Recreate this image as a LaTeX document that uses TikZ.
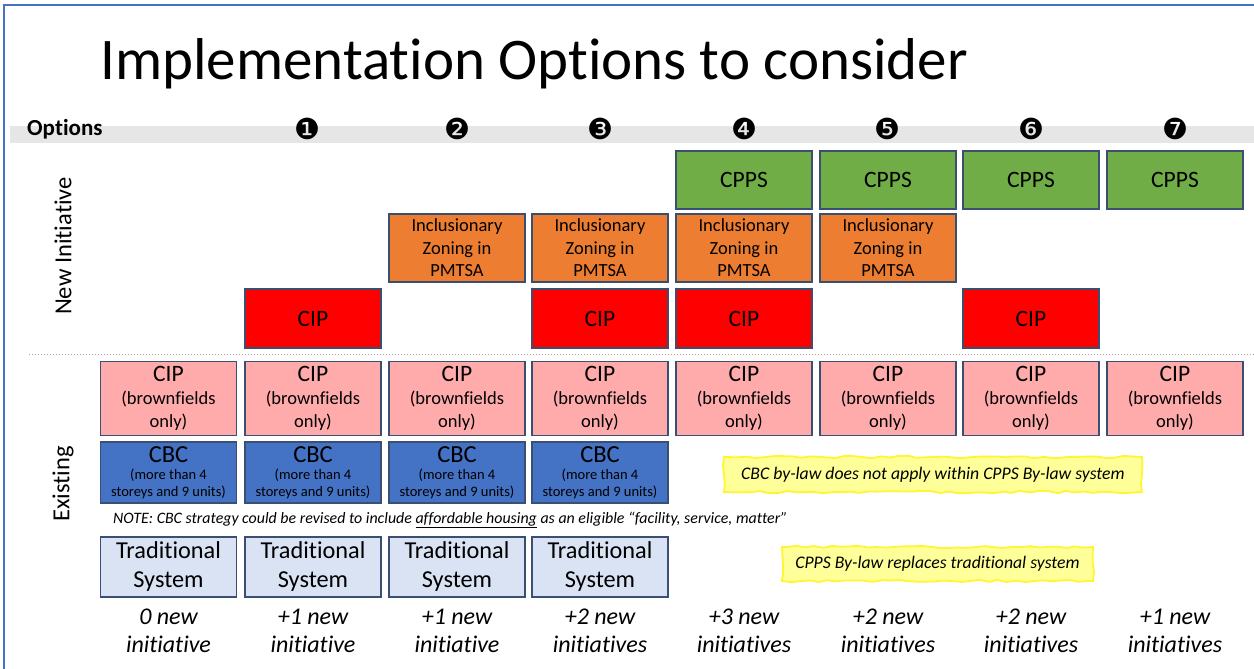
\documentclass[tikz,border=0pt]{standalone}
\usepackage{fontspec}
\setmainfont{Carlito}[Ligatures=NoCommon]
\newfontfamily\dejavu{DejaVu Sans}
\usetikzlibrary{decorations.pathmorphing}
\definecolor{slideblue}{HTML}{4472C4}
\definecolor{bandgray}{HTML}{E7E6E6}
\definecolor{cgreen}{HTML}{70AD47}
\definecolor{corange}{HTML}{ED7D31}
\definecolor{cred}{HTML}{FF0000}
\definecolor{cpink}{HTML}{FFABAB}
\definecolor{cblue}{HTML}{4472C4}
\definecolor{clight}{HTML}{DAE3F3}
\definecolor{cbord}{HTML}{3B4F72}
\definecolor{noteyel}{HTML}{FFFF99}
\definecolor{noteedge}{HTML}{FFF533}
\newcommand{\fs}[2]{\fontsize{#1}{#2}\selectfont}
\begin{document}
\begin{tikzpicture}[x=1pt,y=-1pt,
  cell/.style={draw=cbord, line width=1.3pt, minimum width=136pt, inner sep=0pt, align=center, text=black},
  greenbox/.style={cell, fill=cgreen, minimum height=58pt, font=\fs{23.5}{26}},
  orangebox/.style={cell, fill=corange, minimum height=68pt, font=\fs{18.5}{22.5}},
  redbox/.style={cell, fill=cred, minimum height=59pt, font=\fs{23.5}{26}},
  pinkbox/.style={cell, fill=cpink, minimum height=74pt, font=\fs{18.5}{23}},
  bluebox/.style={cell, fill=cblue, minimum height=61pt, font=\fs{14.5}{17}},
  tradbox/.style={cell, fill=clight, minimum height=60pt, font=\fs{24.3}{29}},
  notebox/.style={draw=noteedge, fill=noteyel, line width=1.8pt, inner sep=0pt,
     decorate, decoration={random steps, segment length=9pt, amplitude=1.2pt},
     font=\fs{17.7}{20}\itshape},
  numlabel/.style={font=\dejavu\fs{29}{30}, inner sep=0pt},
  bottomlabel/.style={font=\fs{24}{28}\itshape, align=center, inner sep=0pt},
  sidelabel/.style={font=\fs{24.5}{26}, rotate=90, inner sep=0pt}
]
\useasboundingbox (0,0) rectangle (1254,669);
\fill[white] (0,0) rectangle (1254,669);
\draw[slideblue, line width=2pt] (4,669) -- (4,5) -- (1254,5);
% title
\node[anchor=base west, inner sep=0pt, font=\fs{59}{66}] (title) at (100,80) {Implementation Options to consider};
% options band
\fill[bandgray] (10,126) rectangle (1254,143);
\node[anchor=west, inner sep=0pt, font=\fs{23}{26}\bfseries] (optlabel) at (27,129) {Options};
\node[numlabel] (n1) at (307,129) {❶};
\node[numlabel] (n2) at (457,129) {❷};
\node[numlabel] (n3) at (600,129) {❸};
\node[numlabel] (n4) at (744,129) {❹};
\node[numlabel] (n5) at (887,129) {❺};
\node[numlabel] (n6) at (1031,129) {❻};
\node[numlabel] (n7) at (1175,129) {❼};
% side labels
\node[sidelabel] (newinit) at (63,246) {New Initiative};
\node[sidelabel] (existing) at (63,484) {Existing};
% CPPS row
\node[greenbox] (cpps4) at (744,180) {CPPS};
\node[greenbox] (cpps5) at (888,180) {CPPS};
\node[greenbox] (cpps6) at (1031,180) {CPPS};
\node[greenbox] (cpps7) at (1175,180) {CPPS};
% IZ row
\node[orangebox] (iz2) at (457,248) {Inclusionary\\Zoning in\\PMTSA};
\node[orangebox] (iz3) at (600,248) {Inclusionary\\Zoning in\\PMTSA};
\node[orangebox] (iz4) at (744,248) {Inclusionary\\Zoning in\\PMTSA};
\node[orangebox] (iz5) at (888,248) {Inclusionary\\Zoning in\\PMTSA};
% new CIP row
\node[redbox] (cipn1) at (313,318.5) {CIP};
\node[redbox] (cipn3) at (600,318.5) {CIP};
\node[redbox] (cipn4) at (744,318.5) {CIP};
\node[redbox] (cipn6) at (1031,318.5) {CIP};
% divider
\draw[gray!70, dotted, line width=1pt] (29,354) -- (1254,354);
% existing CIP row
\foreach \c [count=\i from 0] in {168.5,313,457,600,744,888,1031,1175}{
  \node[pinkbox] (cipe\i) at (\c,398.5) {{\fs{23.5}{23}CIP}\\(brownfields\\only)};
}
% CBC row
\foreach \c [count=\i from 0] in {168.5,313,457,600}{
  \node[bluebox] (cbc\i) at (\c,472.5) {{\fs{24.5}{23}CBC}\\(more than 4\\storeys and 9 units)};
  \node[tradbox] (trad\i) at (\c,567) {Traditional\\System};
}
% notes
\node[anchor=west, inner sep=0pt, font=\fs{15.9}{18}\itshape] (note) at (113,520) {NOTE: CBC strategy could be revised to include \underline{affordable housing} as an eligible “facility, service, matter”};
\node[notebox, minimum width=418pt, minimum height=35pt] (yel1) at (933,474.5) {CBC by-law does not apply within CPPS By-law system};
\node[notebox, minimum width=311pt, minimum height=34pt] (yel2) at (937.5,564) {CPPS By-law replaces traditional system};
% bottom counts
\node[bottomlabel] (b0) at (168.5,631) {0 new\\initiative};
\node[bottomlabel] (b1) at (313,631) {+1 new\\initiative};
\node[bottomlabel] (b2) at (457,631) {+1 new\\initiative};
\node[bottomlabel] (b3) at (600,631) {+2 new\\initiatives};
\node[bottomlabel] (b4) at (744,631) {+3 new\\initiatives};
\node[bottomlabel] (b5) at (888,631) {+2 new\\initiatives};
\node[bottomlabel] (b6) at (1031,631) {+2 new\\initiatives};
\node[bottomlabel] (b7) at (1175,631) {+1 new\\initiatives};
\end{tikzpicture}
\end{document}
